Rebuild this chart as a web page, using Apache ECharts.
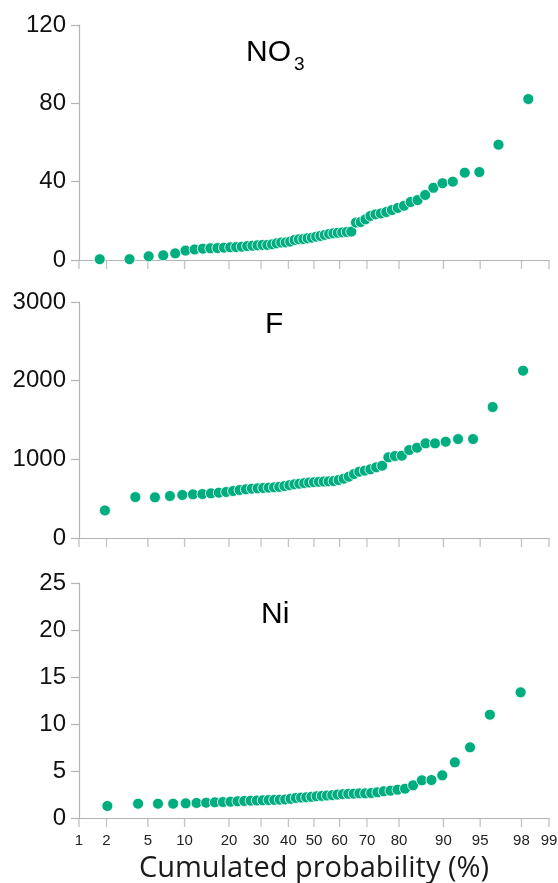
<!DOCTYPE html>
<html>
<head>
<meta charset="utf-8">
<script src="https://cdn.jsdelivr.net/npm/echarts@6/dist/echarts.min.js"></script>
<style>html,body{margin:0;padding:0;background:#fff;}#chart{width:558px;height:883px;}</style>
</head>
<body>
<div id="chart"></div>
<script>
// ---- data (sorted concentrations) ----
const probTicks = [1, 2, 5, 10, 20, 30, 40, 50, 60, 70, 80, 90, 95, 98, 99];
const no3Values = [0.4, 0.4, 1.9, 2.4, 3.4, 4.8, 5.4, 5.8, 6.0, 6.1,
  6.3, 6.5, 6.6, 6.8, 7.1, 7.3, 7.5, 7.7, 7.7, 8.0,
  8.5, 8.9, 9.0, 9.4, 10.2, 10.6, 10.7, 11.1, 11.4, 11.9,
  12.3, 12.8, 13.3, 13.6, 13.9, 14.1, 14.3, 14.5, 19.1, 19.4,
  20.8, 22.5, 23.3, 23.8, 24.5, 25.5, 26.6, 27.7, 29.6, 30.6,
  33.2, 36.9, 39.2, 40.0, 44.6, 44.9, 58.9, 82.2];
const fValues = [350, 520, 517, 534, 547, 555, 559, 568, 576, 585,
  597, 610, 619, 627, 631, 636, 640, 644, 650, 660,
  672, 682, 690, 698, 705, 710, 714, 718, 720, 724,
  737, 754, 779, 813, 843, 856, 873, 898, 919, 1025,
  1042, 1046, 1118, 1148, 1203, 1203, 1224, 1258, 1258, 1665, 2127];
const niValues = [1.28, 1.52, 1.52, 1.52, 1.56, 1.60, 1.63, 1.67, 1.70, 1.74,
  1.78, 1.81, 1.84, 1.86, 1.88, 1.91, 1.93, 1.95, 1.97, 2.04,
  2.13, 2.17, 2.20, 2.25, 2.31, 2.35, 2.39, 2.43, 2.49, 2.53,
  2.57, 2.59, 2.62, 2.62, 2.66, 2.73, 2.84, 2.91, 3.01, 3.12,
  3.48, 4.01, 4.04, 4.54, 5.92, 7.52, 10.99, 13.37];
const panelNames = ['NO', 'F', 'Ni'];
const yMax = [120, 3000, 25];
const yStep = [40, 1000, 5];
const xTitle = 'Cumulated probability (%)';

// ---- inverse standard normal CDF (probability scale) ----
function probit(p) {
  const a = [-3.969683028665376e+01, 2.209460984245205e+02, -2.759285104469687e+02, 1.383577518672690e+02, -3.066479806614716e+01, 2.506628277459239e+00];
  const b = [-5.447609879822406e+01, 1.615858368580409e+02, -1.556989798598866e+02, 6.680131188771972e+01, -1.328068155288572e+01];
  const c = [-7.784894002430293e-03, -3.223964580411365e-01, -2.400758277161838e+00, -2.549732539343734e+00, 4.374664141464968e+00, 2.938163982698783e+00];
  const d = [7.784695709041462e-03, 3.224671290700398e-01, 2.445134137142996e+00, 3.754408661907416e+00];
  const pl = 0.02425, ph = 1 - pl;
  let q, r;
  if (p < pl) {
    q = Math.sqrt(-2 * Math.log(p));
    return (((((c[0]*q+c[1])*q+c[2])*q+c[3])*q+c[4])*q+c[5]) / ((((d[0]*q+d[1])*q+d[2])*q+d[3])*q+1);
  }
  if (p <= ph) {
    q = p - 0.5; r = q * q;
    return (((((a[0]*r+a[1])*r+a[2])*r+a[3])*r+a[4])*r+a[5])*q / (((((b[0]*r+b[1])*r+b[2])*r+b[3])*r+b[4])*r+1);
  }
  q = Math.sqrt(-2 * Math.log(1 - p));
  return -(((((c[0]*q+c[1])*q+c[2])*q+c[3])*q+c[4])*q+c[5]) / ((((d[0]*q+d[1])*q+d[2])*q+d[3])*q+1);
}

// plotting position i/(n+1) of each ranked value, on the probit scale
function toPoints(values) {
  const n = values.length;
  return values.map((v, i) => [probit((i + 1) / (n + 1)), v]);
}

const tickZ = probTicks.map(p => probit(p / 100));
const xMin = probit(probTicks[0] / 100);
const xMax = probit(probTicks[probTicks.length - 1] / 100);
function tickLabel(z) {
  let best = 0, bd = Infinity;
  tickZ.forEach((t, i) => { const dd = Math.abs(t - z); if (dd < bd) { bd = dd; best = i; } });
  return String(probTicks[best]);
}

const axisColor = '#b4b4b4';
const grids = [
  { left: 79, right: 9, top: 25, height: 235, outerBoundsMode: 'none', containLabel: false },
  { left: 79, right: 9, top: 302, height: 236, outerBoundsMode: 'none', containLabel: false },
  { left: 79, right: 9, top: 583, height: 235, outerBoundsMode: 'none', containLabel: false }
];
const series = [no3Values, fValues, niValues];

// probability-scale tick marks below each x axis (placed through the axis scale)
const tickSeries = grids.map((g, k) => ({
  type: 'scatter', xAxisIndex: k, yAxisIndex: k, silent: true, clip: false, z: 1,
  data: tickZ.map(t => [t, 0]),
  symbol: 'rect', symbolSize: [1.3, 9], symbolOffset: [0, 4.5],
  itemStyle: { color: axisColor, borderWidth: 0 },
  emphasis: { disabled: true }
}));

const scatterSeries = series.map((vals, k) => ({
  type: 'scatter', xAxisIndex: k, yAxisIndex: k,
  data: toPoints(vals),
  symbol: 'circle', symbolSize: 11, z: 3,
  itemStyle: { color: '#00ad7f', borderColor: '#ffffff', borderWidth: 0.8, opacity: 1 },
  emphasis: { disabled: true }
}));

const option = {
  animation: false,
  backgroundColor: '#fff',
  grid: grids,
  xAxis: grids.map((g, k) => ({
    type: 'value', gridIndex: k, min: xMin, max: xMax,
    splitLine: { show: false },
    axisLine: { show: true, onZero: false, lineStyle: { color: axisColor, width: 1.2 } },
    axisTick: { show: false },
    axisLabel: {
      show: k === 2, customValues: tickZ, formatter: v => tickLabel(v),
      fontFamily: 'Liberation Sans', fontSize: 15, color: '#222', margin: 15
    },
    name: k === 2 ? xTitle : '',
    nameLocation: 'middle', nameGap: 36,
    nameTextStyle: { fontFamily: 'Open Sans', fontSize: 29, color: '#1a1a1a' }
  })),
  yAxis: grids.map((g, k) => ({
    type: 'value', gridIndex: k, min: 0, max: yMax[k], interval: yStep[k],
    splitLine: { show: false },
    axisLine: { show: true, onZero: false, lineStyle: { color: axisColor, width: 1.2 } },
    axisTick: { show: true, length: 8, lineStyle: { color: axisColor, width: 1.2 } },
    axisLabel: { fontFamily: 'Liberation Sans', fontSize: 24, color: '#111', margin: 13, formatter: v => String(v) }
  })),
  series: tickSeries.concat(scatterSeries),
  graphic: [
    { type: 'text', x: 246, y: 53, style: { text: panelNames[0], font: '30px "Liberation Sans"', fill: '#000', align: 'left', verticalAlign: 'middle' } },
    { type: 'text', x: 294, y: 65, style: { text: '3', font: '19px "Liberation Sans"', fill: '#000', align: 'left', verticalAlign: 'middle' } },
    { type: 'text', x: 265, y: 325, style: { text: panelNames[1], font: '30px "Liberation Sans"', fill: '#000', align: 'left', verticalAlign: 'middle' } },
    { type: 'text', x: 261, y: 615, style: { text: panelNames[2], font: '30px "Liberation Sans"', fill: '#000', align: 'left', verticalAlign: 'middle' } }
  ]
};

const chart = echarts.init(document.getElementById('chart'), null, { renderer: 'canvas' });
chart.setOption(option);
</script>
</body>
</html>
